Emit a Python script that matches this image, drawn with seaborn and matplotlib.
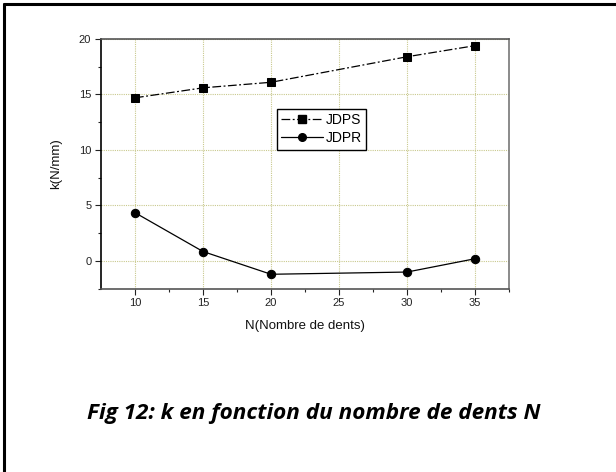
import matplotlib
matplotlib.use("Agg")
import matplotlib.pyplot as plt
import seaborn as sns
import pandas as pd
from matplotlib.lines import Line2D

# data
n_dents = [10, 15, 20, 30, 35]
k_jdps = [14.7, 15.6, 16.1, 18.4, 19.4]
k_jdpr = [4.35, 0.85, -1.2, -1.0, 0.2]
series_names = ["JDPS", "JDPR"]
x_ticks = [10, 15, 20, 25, 30, 35]
y_ticks = [0, 5, 10, 15, 20]

df = pd.DataFrame({
    "N": n_dents * 2,
    "k": k_jdps + k_jdpr,
    "serie": [series_names[0]] * len(n_dents) + [series_names[1]] * len(n_dents),
})

sns.set_style("white")
plt.rcParams["font.family"] = ["Liberation Sans", "DejaVu Sans"]
plt.rcParams["text.color"] = "black"
plt.rcParams["axes.labelcolor"] = "#111111"

fig = plt.figure(figsize=(6.16, 4.72), dpi=100)
ax = fig.add_axes([101/616, 1-288.7/472, (509-101)/616, (288.7-39)/472])

sns.lineplot(data=df, x="N", y="k", hue="serie", style="serie",
             palette={"JDPS": "black", "JDPR": "black"},
             markers={"JDPS": "s", "JDPR": "o"},
             dashes={"JDPS": (7, 2, 1.5, 2), "JDPR": ""},
             markersize=6, markeredgecolor="black", linewidth=0.9,
             ax=ax, legend=False)

ax.set_xlim(7.5, 37.5)
ax.set_ylim(-2.5, 20)
ax.set_xticks(x_ticks)
ax.set_yticks(y_ticks)
ax.set_xticks([12.5, 17.5, 22.5, 27.5, 32.5, 37.5], minor=True)
ax.set_yticks([-2.5, 2.5, 7.5, 12.5, 17.5], minor=True)
ax.tick_params(which="major", direction="out", length=4, width=0.8,
               labelsize=8, colors="#222222", pad=3)
ax.tick_params(which="minor", direction="out", length=2.5, width=0.8)
ax.tick_params(axis="x", which="both", bottom=True)
ax.tick_params(axis="y", which="both", left=True)

ax.grid(True, which="major", linestyle=(0, (1, 1)), color="#c9c98e", linewidth=0.8)
ax.set_axisbelow(True)
for side, col in [("left", "black"), ("bottom", "#555555"),
                  ("top", "#555555"), ("right", "#777777")]:
    ax.spines[side].set_color(col)
    ax.spines[side].set_linewidth(1.2)

ax.set_xlabel("N(Nombre de dents)", fontsize=9.5, labelpad=8)
ax.set_ylabel("k(N/mm)", fontsize=9.5, labelpad=12)

handles = [
    Line2D([], [], color="black", linestyle=(0, (7, 2, 1.5, 2)), marker="s",
           markersize=5.5, linewidth=0.9),
    Line2D([], [], color="black", linestyle="-", marker="o",
           markersize=5.5, linewidth=0.9),
]
leg = ax.legend(handles, series_names, loc="upper left",
                bbox_to_anchor=(277/616, 1-109/472), bbox_transform=fig.transFigure,
                fontsize=10, frameon=True, fancybox=False, framealpha=1,
                edgecolor="black", handlelength=3.0, handletextpad=0.2,
                borderpad=0.3, labelspacing=0.3, borderaxespad=0)
leg.get_frame().set_linewidth(1.0)

# figure frame (top and left edges)
fig.add_artist(Line2D([4/616, 1], [1-4/472, 1-4/472], transform=fig.transFigure,
                      color="black", linewidth=2.2))
fig.add_artist(Line2D([4/616, 4/616], [0, 1-4/472], transform=fig.transFigure,
                      color="black", linewidth=2.2))

fig.text(87/616, 1-419/472, "Fig 12: k en fonction du nombre de dents N",
         fontsize=16.2, fontweight="bold", fontstyle="italic", color="black",
         family=["Open Sans", "DejaVu Sans"], ha="left", va="baseline")

fig.savefig("out.png", dpi=100)
